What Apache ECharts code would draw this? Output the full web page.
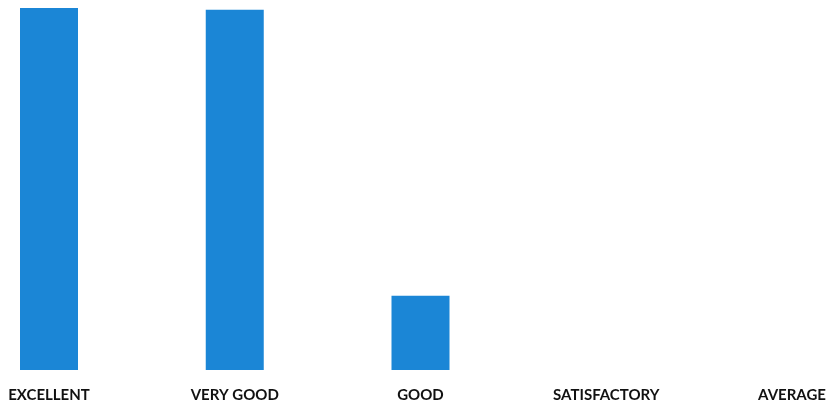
<!DOCTYPE html>
<html>
<head>
<meta charset="utf-8">
<script src="https://cdn.jsdelivr.net/npm/echarts@6/dist/echarts.min.js"></script>
<style>html,body{margin:0;padding:0;background:#fff}#c{width:833px;height:410px}</style>
</head>
<body>
<div id="c"></div>
<script>
var categories = ['EXCELLENT', 'VERY GOOD', 'GOOD', 'SATISFACTORY', 'AVERAGE'];
var values = [20, 19.9, 4.1, 0, 0];

var chart = echarts.init(document.getElementById('c'));
chart.setOption({
  animation: false,
  grid: { left: 49, right: 41, top: 8, bottom: 40 },
  xAxis: {
    type: 'category',
    data: categories,
    boundaryGap: false,
    axisLine: { show: false },
    axisTick: { show: false },
    axisLabel: {
      margin: 18,
      color: '#111',
      fontFamily: 'Lato',
      fontWeight: 'bold',
      fontSize: 15,
      interval: 0
    }
  },
  yAxis: {
    type: 'value',
    min: 0,
    max: 20,
    show: false,
    splitLine: { show: false }
  },
  series: [{
    type: 'bar',
    data: values,
    barWidth: 58,
    itemStyle: { color: '#1b86d6' }
  }]
});
</script>
</body>
</html>
